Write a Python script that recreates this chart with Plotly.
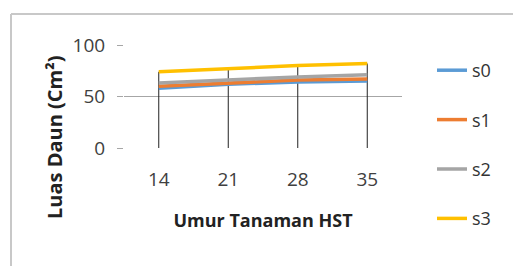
import plotly.graph_objects as go

categories = ["14", "21", "28", "35"]
s0 = [58, 62, 64, 65]
s1 = [60, 63, 66, 67]
s2 = [63, 66, 69, 71]
s3 = [74, 77, 80, 82]
series_names = ["s0", "s1", "s2", "s3"]
colors = ["#5B9BD5", "#ED7D31", "#A5A5A5", "#FFC000"]

W, H = 513, 266
L, R, T, B = 124, 111, 45, 118
PW, PH = W - L - R, H - T - B

FONT = "Open Sans"

fig = go.Figure()

# drop lines from highest series to the axis
top = [max(v) for v in zip(s0, s1, s2, s3)]
dx, dy = [], []
for c, v in zip(categories, top):
    dx += [c, c, None]
    dy += [0, v, None]
fig.add_trace(go.Scatter(x=dx, y=dy, mode="lines", line=dict(color="#222222", width=1),
                         showlegend=False, hoverinfo="skip"))

for i, (name, vals, col) in enumerate(zip(series_names, [s0, s1, s2, s3], colors)):
    fig.add_trace(go.Scatter(x=categories, y=vals, mode="lines", name=name,
                             line=dict(color=col, width=3.5), legendgroup=name))

def px_x(p):
    return (p - L) / PW

def px_y(p):
    return (H - B - p) / PH

fig.update_layout(
    width=W, height=H,
    margin=dict(l=L, r=R, t=T, b=B, autoexpand=False),
    paper_bgcolor="white", plot_bgcolor="white",
    font=dict(family=FONT, color="#333333", size=18),
    showlegend=True,
    legend=dict(x=px_x(432), y=px_y(52), xanchor="left", yanchor="top",
                font=dict(size=18, color="#333333"), tracegroupgap=23,
                maxheight=260, bgcolor="rgba(0,0,0,0)"),
    xaxis=dict(type="category", categoryorder="array", categoryarray=categories,
               range=[-0.5, len(categories) - 0.5], automargin=False,
               showgrid=False, showline=False, zeroline=False, ticks="",
               ticklabelstandoff=18, tickfont=dict(size=19, color="#404040"),
               title=dict(text="<b>Umur Tanaman HST</b>", standoff=23,
                          font=dict(size=18, color="#222222"))),
    yaxis=dict(range=[0, 100], tickvals=[0, 50, 100], showgrid=True, gridcolor="#a6a6a6",
               gridwidth=1, zeroline=False, showline=False, ticks="outside", ticklen=6,
               tickcolor="#a6a6a6", ticklabelstandoff=8, automargin=False,
               tickfont=dict(size=19, color="#404040")),
    annotations=[
        dict(text="<b>Luas Daun (Cm²)</b>", textangle=-90, xref="paper", yref="paper",
             x=px_x(54), y=px_y(137), xanchor="center", yanchor="middle", showarrow=False,
             font=dict(size=20, color="#222222")),
    ],
    shapes=[
        dict(type="line", xref="paper", yref="paper", x0=px_x(11), x1=px_x(520),
             y0=px_y(14), y1=px_y(14), line=dict(color="#c8c8c8", width=2)),
        dict(type="line", xref="paper", yref="paper", x0=px_x(11), x1=px_x(11),
             y0=px_y(14), y1=px_y(270), line=dict(color="#c8c8c8", width=2)),
    ],
)

fig.write_html("out.html", config={"displayModeBar": False},
               post_script="document.body.style.margin='0';")
